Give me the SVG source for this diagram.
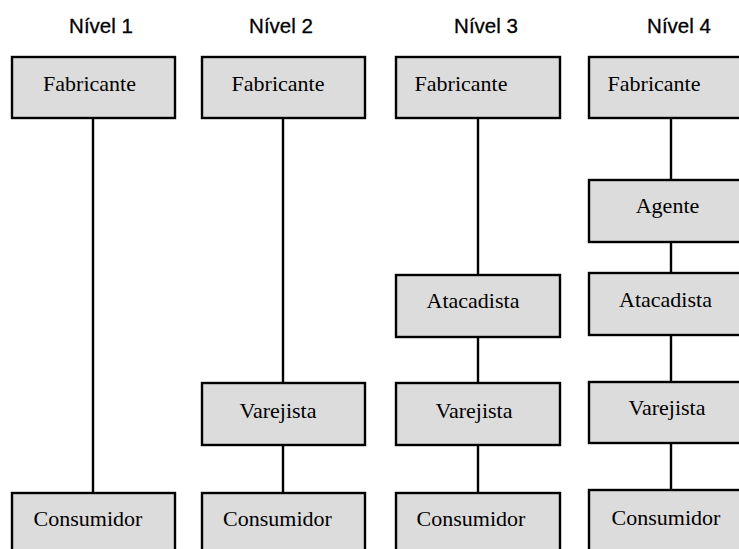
<svg xmlns="http://www.w3.org/2000/svg" width="739" height="549" viewBox="0 0 739 549">
<style>
.box{fill:#dcdcdc;stroke:#000;stroke-width:2.4}
.lbl{font-family:"Liberation Serif","Times New Roman",serif;font-size:22px;fill:#000;text-anchor:middle}
.hdr{font-family:"Liberation Sans",Arial,sans-serif;font-size:20.5px;fill:#000;text-anchor:middle;stroke:#000;stroke-width:0.3}
.con{stroke:#000;stroke-width:2.4;fill:none}
</style>
<rect width="739" height="549" fill="#fff"/>
<g id="headers">
<text class="hdr" x="101" y="33">Nível 1</text>
<text class="hdr" x="281" y="33">Nível 2</text>
<text class="hdr" x="486" y="33">Nível 3</text>
<text class="hdr" x="679" y="33">Nível 4</text>
</g>
<g id="connectors">
<line class="con" x1="93" y1="118" x2="93" y2="493"/>
<line class="con" x1="283" y1="118" x2="283" y2="383"/>
<line class="con" x1="283" y1="445" x2="283" y2="493"/>
<line class="con" x1="478" y1="118" x2="478" y2="275"/>
<line class="con" x1="478" y1="337" x2="478" y2="383"/>
<line class="con" x1="478" y1="445" x2="478" y2="493"/>
<line class="con" x1="671" y1="118" x2="671" y2="180"/>
<line class="con" x1="671" y1="242" x2="671" y2="273"/>
<line class="con" x1="671" y1="335" x2="671" y2="382"/>
<line class="con" x1="671" y1="443" x2="671" y2="490"/>
</g>
<g id="n1-fabricante"><rect class="box" x="12" y="57" width="163" height="61"/><text class="lbl" x="89.5" y="91">Fabricante</text></g>
<g id="n1-consumidor"><rect class="box" x="12" y="493" width="163" height="70"/><text class="lbl" x="88" y="526">Consumidor</text></g>
<g id="n2-fabricante"><rect class="box" x="202" y="57" width="163" height="61"/><text class="lbl" x="278" y="91">Fabricante</text></g>
<g id="n2-varejista"><rect class="box" x="202" y="383" width="163" height="62"/><text class="lbl" x="278" y="418">Varejista</text></g>
<g id="n2-consumidor"><rect class="box" x="202" y="493" width="163" height="70"/><text class="lbl" x="277.5" y="526">Consumidor</text></g>
<g id="n3-fabricante"><rect class="box" x="396" y="57" width="164" height="61"/><text class="lbl" x="461" y="91">Fabricante</text></g>
<g id="n3-atacadista"><rect class="box" x="396" y="275" width="164" height="62"/><text class="lbl" x="473" y="308">Atacadista</text></g>
<g id="n3-varejista"><rect class="box" x="396" y="383" width="164" height="62"/><text class="lbl" x="474" y="418">Varejista</text></g>
<g id="n3-consumidor"><rect class="box" x="396" y="493" width="164" height="70"/><text class="lbl" x="471" y="526">Consumidor</text></g>
<g id="n4-fabricante"><rect class="box" x="589" y="57" width="163" height="61"/><text class="lbl" x="654" y="91">Fabricante</text></g>
<g id="n4-agente"><rect class="box" x="589" y="180" width="163" height="62"/><text class="lbl" x="667.5" y="213">Agente</text></g>
<g id="n4-atacadista"><rect class="box" x="589" y="273" width="163" height="62"/><text class="lbl" x="665.5" y="307">Atacadista</text></g>
<g id="n4-varejista"><rect class="box" x="589" y="382" width="163" height="61"/><text class="lbl" x="667" y="415">Varejista</text></g>
<g id="n4-consumidor"><rect class="box" x="589" y="490" width="163" height="73"/><text class="lbl" x="666" y="525">Consumidor</text></g>
</svg>
